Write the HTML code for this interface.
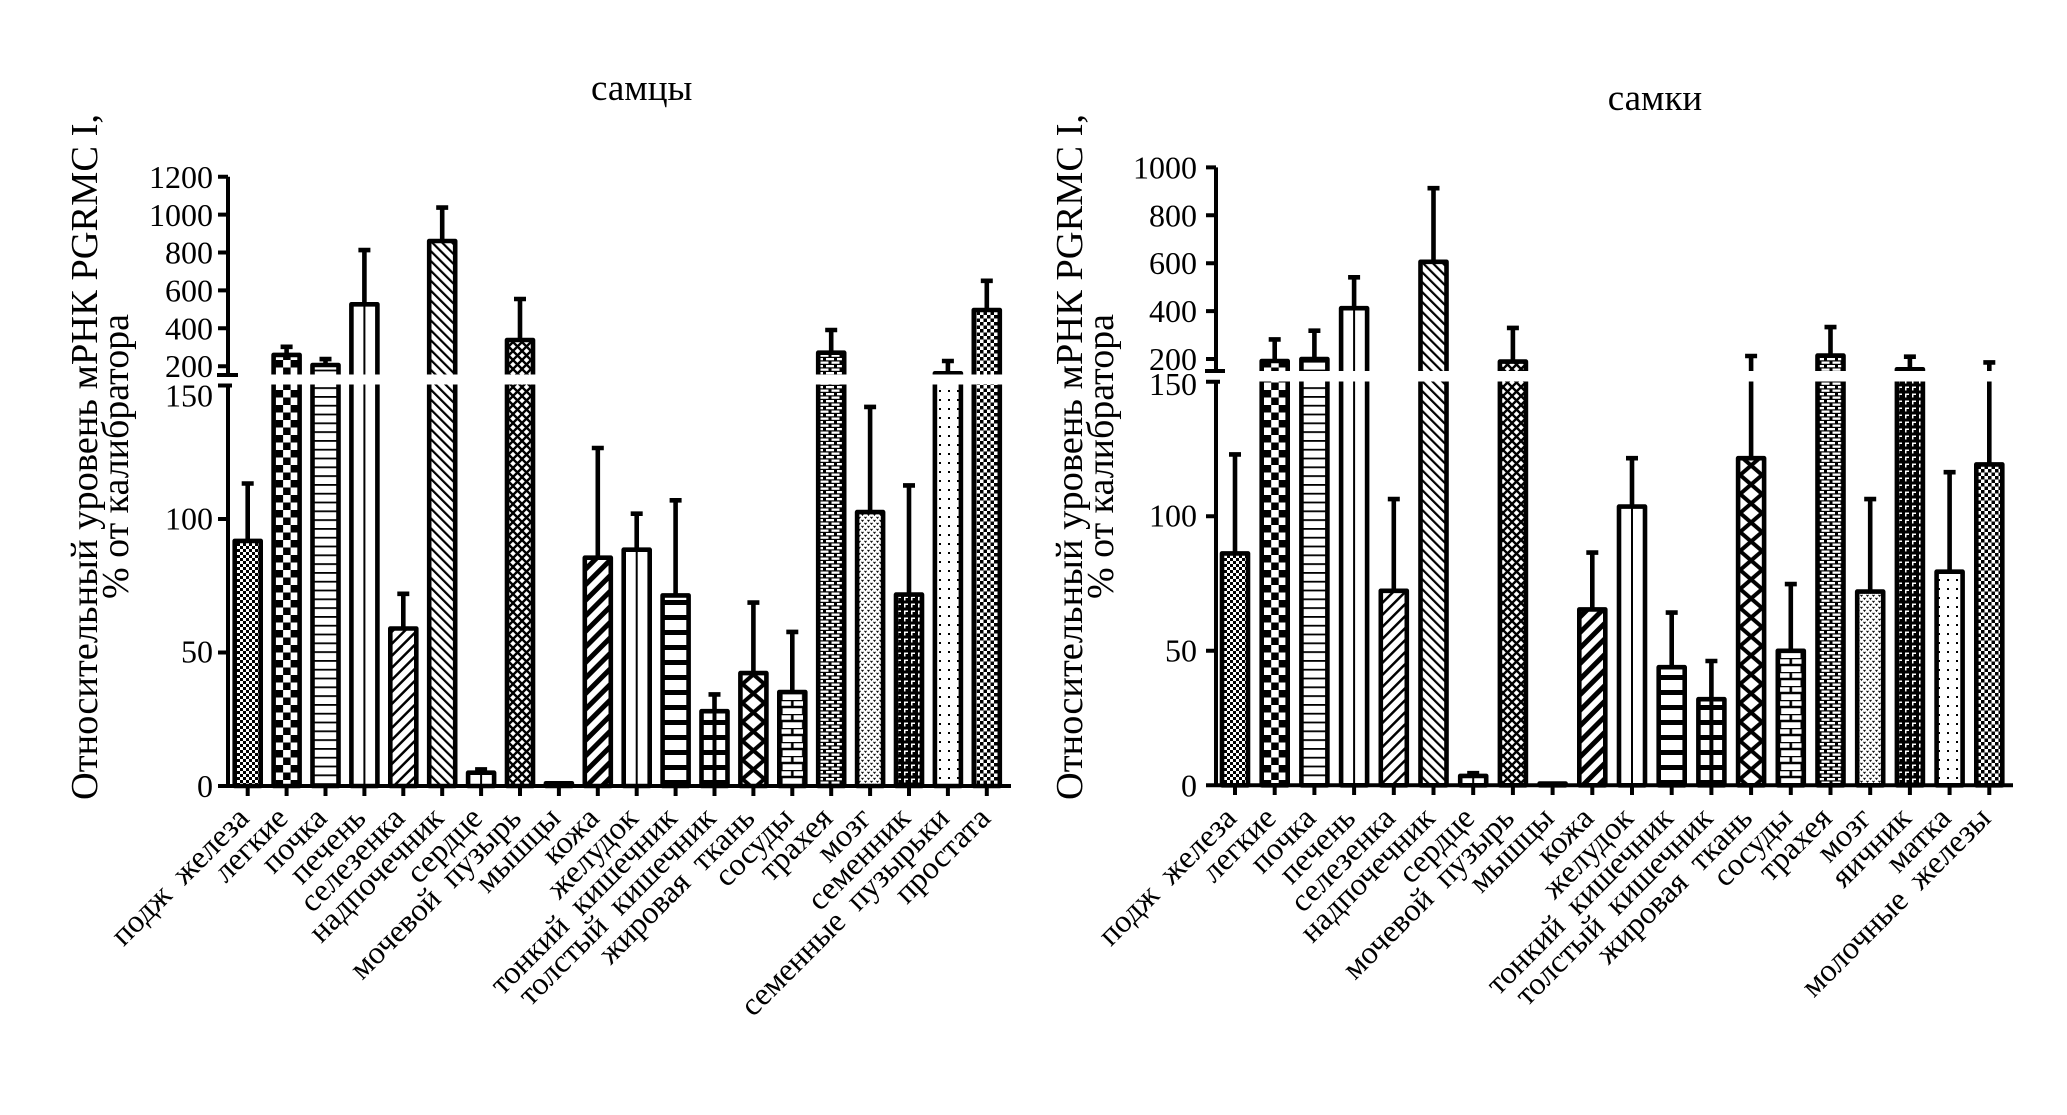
<!DOCTYPE html>
<html><head><meta charset="utf-8"><style>
html,body{margin:0;padding:0;background:#fff;}
svg{display:block;}
text{font-family:"Liberation Serif","DejaVu Serif",serif;fill:#000;}
</style></head><body>
<svg width="2067" height="1115" viewBox="0 0 2067 1115" xmlns="http://www.w3.org/2000/svg">
<defs>
<pattern id="pChk" width="6" height="6" patternUnits="userSpaceOnUse"><rect width="6" height="6" fill="#fff"/><rect width="3" height="3" fill="#000"/><rect x="3" y="3" width="3" height="3" fill="#000"/></pattern>
<pattern id="pChk2" width="7" height="7" patternUnits="userSpaceOnUse"><rect width="7" height="7" fill="#fff"/><rect width="3.5" height="3.5" fill="#000"/><rect x="3.5" y="3.5" width="3.5" height="3.5" fill="#000"/></pattern>
<pattern id="pBigL" x="275.6" y="0" width="15" height="15" patternUnits="userSpaceOnUse"><rect width="15" height="15" fill="#fff"/><rect width="7.5" height="7.5" fill="#000"/><rect x="7.5" y="7.5" width="7.5" height="7.5" fill="#000"/></pattern>
<pattern id="pBigR" x="1263.7" y="0" width="15" height="15" patternUnits="userSpaceOnUse"><rect width="15" height="15" fill="#fff"/><rect width="7.5" height="7.5" fill="#000"/><rect x="7.5" y="7.5" width="7.5" height="7.5" fill="#000"/></pattern>
<pattern id="pH" width="10" height="8.8" patternUnits="userSpaceOnUse"><rect width="10" height="8.8" fill="#fff"/><rect width="10" height="1.8" fill="#000"/></pattern>
<pattern id="pSl" width="8.5" height="10" patternUnits="userSpaceOnUse" patternTransform="rotate(45)"><rect width="8.5" height="10" fill="#fff"/><rect width="2.5" height="10" fill="#000"/></pattern>
<pattern id="pBs" width="7" height="10" patternUnits="userSpaceOnUse" patternTransform="rotate(-45)"><rect width="7" height="10" fill="#fff"/><rect width="2.2" height="10" fill="#000"/></pattern>
<pattern id="pWeave" width="9" height="9" patternUnits="userSpaceOnUse"><rect width="9" height="9" fill="#fff"/><path d="M0,9L9,0M-1,1L1,-1M8,10L10,8M0,0L9,9M-1,8L1,10M8,-1L10,1" stroke="#000" stroke-width="2.4"/></pattern>
<pattern id="pThick" width="11" height="10" patternUnits="userSpaceOnUse" patternTransform="rotate(45)"><rect width="11" height="10" fill="#fff"/><rect width="5" height="10" fill="#000"/></pattern>
<pattern id="pStr" width="10" height="15" patternUnits="userSpaceOnUse"><rect width="10" height="15" fill="#fff"/><rect width="10" height="5" fill="#000"/></pattern>
<pattern id="pDiaL" x="742.4" y="0" width="22" height="19" patternUnits="userSpaceOnUse"><rect width="22" height="19" fill="#fff"/><path d="M0,0L22,19M22,0L0,19" stroke="#000" stroke-width="4"/></pattern>
<pattern id="pDiaR" x="1740.1" y="0" width="22" height="19" patternUnits="userSpaceOnUse"><rect width="22" height="19" fill="#fff"/><path d="M0,0L22,19M22,0L0,19" stroke="#000" stroke-width="4"/></pattern>
<pattern id="pBrickL" x="781.3" y="0" width="22" height="14" patternUnits="userSpaceOnUse"><rect width="22" height="14" fill="#fff"/><path d="M0,0H22M0,7H22M11,0V7M0,7V14M22,7V14" stroke="#000" stroke-width="2.6"/></pattern>
<pattern id="pBrickR" x="1779.8" y="0" width="22" height="14" patternUnits="userSpaceOnUse"><rect width="22" height="14" fill="#fff"/><path d="M0,0H22M0,7H22M11,0V7M0,7V14M22,7V14" stroke="#000" stroke-width="2.6"/></pattern>
<pattern id="pSB" width="11" height="7" patternUnits="userSpaceOnUse"><rect width="11" height="7" fill="#000"/><rect x="1" y="1" width="8" height="2.3" fill="#fff"/><rect x="0" y="4.5" width="3.5" height="2.3" fill="#fff"/><rect x="6.5" y="4.5" width="4.5" height="2.3" fill="#fff"/></pattern>
<pattern id="pDots" width="6" height="6" patternUnits="userSpaceOnUse"><rect width="6" height="6" fill="#fff"/><path d="M0.5,0.8L1.5,2.2L2.5,0.8M3.5,3.8L4.5,5.2L5.5,3.8" stroke="#000" stroke-width="1" fill="none"/></pattern>
<pattern id="pDark" width="7" height="7" patternUnits="userSpaceOnUse"><rect width="7" height="7" fill="#000"/><rect x="1" y="1.5" width="4" height="1.5" fill="#fff"/><rect x="1" y="1.5" width="1.5" height="4" fill="#fff"/></pattern>
<pattern id="pSparse" width="9" height="9" patternUnits="userSpaceOnUse"><rect width="9" height="9" fill="#fff"/><rect x="3" y="3" width="2" height="2" fill="#000"/></pattern>
</defs>

<!-- Titles -->
<text x="641.7" y="100" font-size="37" text-anchor="middle">самцы</text>
<text x="1655" y="110" font-size="37" text-anchor="middle">самки</text>

<!-- Y axis labels -->
<text transform="translate(97,457) rotate(-90)" font-size="38" text-anchor="middle" textLength="686" lengthAdjust="spacingAndGlyphs">Относительный уровень мРНК PGRMC I,</text>
<text transform="translate(128,456.5) rotate(-90)" font-size="38" text-anchor="middle" textLength="285" lengthAdjust="spacingAndGlyphs">% от калибратора</text>
<text transform="translate(1082,457) rotate(-90)" font-size="38" text-anchor="middle" textLength="686" lengthAdjust="spacingAndGlyphs">Относительный уровень мРНК PGRMC I,</text>
<text transform="translate(1113,456.5) rotate(-90)" font-size="38" text-anchor="middle" textLength="285" lengthAdjust="spacingAndGlyphs">% от калибратора</text>

<!-- LEFT bars -->
<g stroke="#000" stroke-width="4.6" stroke-linejoin="round">
<rect x="234.7" y="540.9" width="26" height="245.1" fill="url(#pChk)"/>
<rect x="273.6" y="354.9" width="26" height="431.1" fill="url(#pBigL)"/>
<rect x="312.5" y="365" width="26" height="421" fill="url(#pH)"/>
<rect x="351.4" y="304.3" width="26" height="481.7" fill="#fff"/>
<rect x="390.3" y="628.5" width="26" height="157.5" fill="url(#pSl)"/>
<rect x="429.2" y="241" width="26" height="545" fill="url(#pBs)"/>
<rect x="468.1" y="772.7" width="26" height="13.3" fill="#fff"/>
<rect x="507" y="340" width="26" height="446" fill="url(#pWeave)"/>
<rect x="545.9" y="783.3" width="26" height="2.7" fill="#000"/>
<rect x="584.8" y="557.7" width="26" height="228.3" fill="url(#pThick)"/>
<rect x="623.7" y="549.7" width="26" height="236.3" fill="#fff"/>
<rect x="662.6" y="595.4" width="26" height="190.6" fill="url(#pStr)"/>
<rect x="701.5" y="711.2" width="26" height="74.8" fill="url(#pStr)"/>
<rect x="740.4" y="673.1" width="26" height="112.9" fill="url(#pDiaL)"/>
<rect x="779.3" y="692" width="26" height="94" fill="url(#pBrickL)"/>
<rect x="818.2" y="352.7" width="26" height="433.3" fill="url(#pSB)"/>
<rect x="857.1" y="512.1" width="26" height="273.9" fill="url(#pDots)"/>
<rect x="896" y="594.6" width="26" height="191.4" fill="url(#pDark)"/>
<rect x="934.9" y="373.3" width="26" height="412.7" fill="url(#pSparse)"/>
<rect x="973.8" y="310" width="26" height="476" fill="url(#pChk2)"/>
</g>
<path d="M364.4,304.3V786M481.1,772.7V786M636.7,549.7V786" stroke="#000" stroke-width="2"/>
<path d="M714.5,711.2V786" stroke="#000" stroke-width="4"/>
<path fill="none" stroke="#000" stroke-width="4.6" d="M247.7 540.9V483.5M241.7 483.5H253.7M286.6 354.9V346.8M280.6 346.8H292.6M325.5 365V359.1M319.5 359.1H331.5M364.4 304.3V250.1M358.4 250.1H370.4M403.3 628.5V593.8M397.3 593.8H409.3M442.2 241V207.6M436.2 207.6H448.2M481.1 772.7V769.4M475.1 769.4H487.1M520 340V299M514 299H526M597.8 557.7V448M591.8 448H603.8M636.7 549.7V513.7M630.7 513.7H642.7M675.6 595.4V500.3M669.6 500.3H681.6M714.5 711.2V694.4M708.5 694.4H720.5M753.4 673.1V602.6M747.4 602.6H759.4M792.3 692V631.9M786.3 631.9H798.3M831.2 352.7V330M825.2 330H837.2M870.1 512.1V406.9M864.1 406.9H876.1M909 594.6V485.4M903 485.4H915M947.9 373.3V361M941.9 361H953.9M986.8 310V280.8M980.8 280.8H992.8"/>

<!-- RIGHT bars -->
<g stroke="#000" stroke-width="4.6" stroke-linejoin="round">
<rect x="1222" y="553.4" width="26" height="231.9" fill="url(#pChk)"/>
<rect x="1261.7" y="361" width="26" height="424.3" fill="url(#pBigR)"/>
<rect x="1301.4" y="359" width="26" height="426.3" fill="url(#pH)"/>
<rect x="1341.1" y="308.2" width="26" height="477.1" fill="#fff"/>
<rect x="1380.8" y="590.8" width="26" height="194.5" fill="url(#pSl)"/>
<rect x="1420.5" y="261.8" width="26" height="523.5" fill="url(#pBs)"/>
<rect x="1460.2" y="775.9" width="26" height="9.4" fill="#fff"/>
<rect x="1499.9" y="361.6" width="26" height="423.7" fill="url(#pWeave)"/>
<rect x="1539.6" y="783.5" width="26" height="1.8" fill="#000"/>
<rect x="1579.3" y="609.4" width="26" height="175.9" fill="url(#pThick)"/>
<rect x="1619" y="506.6" width="26" height="278.7" fill="#fff"/>
<rect x="1658.7" y="667.2" width="26" height="118.1" fill="url(#pStr)"/>
<rect x="1698.4" y="699.2" width="26" height="86.1" fill="url(#pStr)"/>
<rect x="1738.1" y="458.2" width="26" height="327.1" fill="url(#pDiaR)"/>
<rect x="1777.8" y="650.8" width="26" height="134.5" fill="url(#pBrickR)"/>
<rect x="1817.5" y="355.6" width="26" height="429.7" fill="url(#pSB)"/>
<rect x="1857.2" y="591.6" width="26" height="193.7" fill="url(#pDots)"/>
<rect x="1896.9" y="369.3" width="26" height="416" fill="url(#pDark)"/>
<rect x="1936.6" y="571.7" width="26" height="213.6" fill="url(#pSparse)"/>
<rect x="1976.3" y="464.4" width="26" height="320.9" fill="url(#pChk2)"/>
</g>
<path d="M1354.1,308.2V785.3M1473.2,775.9V785.3M1632,506.6V785.3" stroke="#000" stroke-width="2"/>
<path d="M1711.4,699.2V785.3" stroke="#000" stroke-width="4"/>
<path fill="none" stroke="#000" stroke-width="4.6" d="M1235 553.4V454.4M1229 454.4H1241M1274.7 361V339.4M1268.7 339.4H1280.7M1314.4 359V330.7M1308.4 330.7H1320.4M1354.1 308.2V277.3M1348.1 277.3H1360.1M1393.8 590.8V499.1M1387.8 499.1H1399.8M1433.5 261.8V188.2M1427.5 188.2H1439.5M1473.2 775.9V773.2M1467.2 773.2H1479.2M1512.9 361.6V327.9M1506.9 327.9H1518.9M1592.3 609.4V552.6M1586.3 552.6H1598.3M1632 506.6V458.2M1626 458.2H1638M1671.7 667.2V612.6M1665.7 612.6H1677.7M1711.4 699.2V661M1705.4 661H1717.4M1751.1 458.2V356M1745.1 356H1757.1M1790.8 650.8V584.1M1784.8 584.1H1796.8M1830.5 355.6V327.1M1824.5 327.1H1836.5M1870.2 591.6V499.1M1864.2 499.1H1876.2M1909.9 369.3V356.7M1903.9 356.7H1915.9M1949.6 571.7V472.2M1943.6 472.2H1955.6M1989.3 464.4V362.4M1983.3 362.4H1995.3"/>

<!-- break gaps -->
<rect x="231" y="374.5" width="790" height="10" fill="#fff"/>
<rect x="1219" y="371" width="800" height="10.5" fill="#fff"/>

<!-- LEFT axes -->
<g stroke="#000" stroke-width="4" fill="none">
<path d="M228,176.7V375M228,385.5V786M218,786H1011"/>
<path d="M218,176.7H228M218,214.6H228M218,252.5H228M218,290.4H228M218,328.3H228M218,366.2H228M217,375H238M218,385.5H232M218,519H228M218,652.5H228"/>
<path d="M247.7,786V796M286.6,786V796M325.5,786V796M364.4,786V796M403.3,786V796M442.2,786V796M481.1,786V796M520,786V796M558.9,786V796M597.8,786V796M636.7,786V796M675.6,786V796M714.5,786V796M753.4,786V796M792.3,786V796M831.2,786V796M870.1,786V796M909,786V796M947.9,786V796M986.8,786V796"/>
</g>
<!-- RIGHT axes -->
<g stroke="#000" stroke-width="4" fill="none">
<path d="M1216,167.4V371M1216,381.8V785.3M1206,785.3H2013"/>
<path d="M1206,167.4H1216M1206,215.3H1216M1206,263.2H1216M1206,311.1H1216M1206,359H1216M1205,371H1225M1206,381.8H1220M1206,516.3H1216M1206,650.8H1216"/>
<path d="M1235,785.3V795M1274.7,785.3V795M1314.4,785.3V795M1354.1,785.3V795M1393.8,785.3V795M1433.5,785.3V795M1473.2,785.3V795M1512.9,785.3V795M1552.6,785.3V795M1592.3,785.3V795M1632,785.3V795M1671.7,785.3V795M1711.4,785.3V795M1751.1,785.3V795M1790.8,785.3V795M1830.5,785.3V795M1870.2,785.3V795M1909.9,785.3V795M1949.6,785.3V795M1989.3,785.3V795"/>
</g>

<!-- LEFT tick labels -->
<g font-size="32" text-anchor="end">
<text x="213" y="188">1200</text>
<text x="213" y="225.8">1000</text>
<text x="213" y="263.7">800</text>
<text x="213" y="301.6">600</text>
<text x="213" y="339.5">400</text>
<text x="213" y="377">200</text>
<text x="213" y="406.5">150</text>
<text x="213" y="529.5">100</text>
<text x="213" y="662.5">50</text>
<text x="213" y="797">0</text>
</g>
<!-- RIGHT tick labels -->
<g font-size="32" text-anchor="end">
<text x="1197" y="178.5">1000</text>
<text x="1197" y="226.3">800</text>
<text x="1197" y="274.2">600</text>
<text x="1197" y="322.1">400</text>
<text x="1197" y="370">200</text>
<text x="1197" y="395">150</text>
<text x="1197" y="526.5">100</text>
<text x="1197" y="661.5">50</text>
<text x="1197" y="796.3">0</text>
</g>

<!-- LEFT category labels -->
<g font-size="32" text-anchor="end">
<text transform="translate(250.7,820) rotate(-45)">подж&#160; железа</text>
<text transform="translate(289.6,820) rotate(-45)">легкие</text>
<text transform="translate(328.5,820) rotate(-45)">почка</text>
<text transform="translate(367.4,820) rotate(-45)">печень</text>
<text transform="translate(406.3,820) rotate(-45)">селезенка</text>
<text transform="translate(445.2,820) rotate(-45)">надпочечник</text>
<text transform="translate(484.1,820) rotate(-45)">сердце</text>
<text transform="translate(523,820) rotate(-45)">мочевой&#160; пузырь</text>
<text transform="translate(561.9,820) rotate(-45)">мышцы</text>
<text transform="translate(600.8,820) rotate(-45)">кожа</text>
<text transform="translate(639.7,820) rotate(-45)">желудок</text>
<text transform="translate(678.6,820) rotate(-45)">тонкий&#160; кишечник</text>
<text transform="translate(717.5,820) rotate(-45)">толстый&#160; кишечник</text>
<text transform="translate(756.4,820) rotate(-45)">жировая&#160; ткань</text>
<text transform="translate(795.3,820) rotate(-45)">сосуды</text>
<text transform="translate(834.2,820) rotate(-45)">трахея</text>
<text transform="translate(873.1,820) rotate(-45)">мозг</text>
<text transform="translate(912,820) rotate(-45)">семенник</text>
<text transform="translate(950.9,820) rotate(-45)">семенные&#160; пузырьки</text>
<text transform="translate(992,820) rotate(-45)">простата</text>
</g>
<!-- RIGHT category labels -->
<g font-size="32" text-anchor="end">
<text transform="translate(1238,820) rotate(-45)">подж&#160; железа</text>
<text transform="translate(1277.7,820) rotate(-45)">легкие</text>
<text transform="translate(1317.4,820) rotate(-45)">почка</text>
<text transform="translate(1357.1,820) rotate(-45)">печень</text>
<text transform="translate(1396.8,820) rotate(-45)">селезенка</text>
<text transform="translate(1436.5,820) rotate(-45)">надпочечник</text>
<text transform="translate(1476.2,820) rotate(-45)">сердце</text>
<text transform="translate(1515.9,820) rotate(-45)">мочевой&#160; пузырь</text>
<text transform="translate(1555.6,820) rotate(-45)">мышцы</text>
<text transform="translate(1595.3,820) rotate(-45)">кожа</text>
<text transform="translate(1635,820) rotate(-45)">желудок</text>
<text transform="translate(1674.7,820) rotate(-45)">тонкий&#160; кишечник</text>
<text transform="translate(1714.4,820) rotate(-45)">толстый&#160; кишечник</text>
<text transform="translate(1754.1,820) rotate(-45)">жировая&#160; ткань</text>
<text transform="translate(1793.8,820) rotate(-45)">сосуды</text>
<text transform="translate(1833.5,820) rotate(-45)">трахея</text>
<text transform="translate(1873.2,820) rotate(-45)">мозг</text>
<text transform="translate(1912.9,820) rotate(-45)">яичник</text>
<text transform="translate(1952.6,820) rotate(-45)">матка</text>
<text transform="translate(1992.3,820) rotate(-45)">молочные&#160; железы</text>
</g>
</svg>
</body></html>
